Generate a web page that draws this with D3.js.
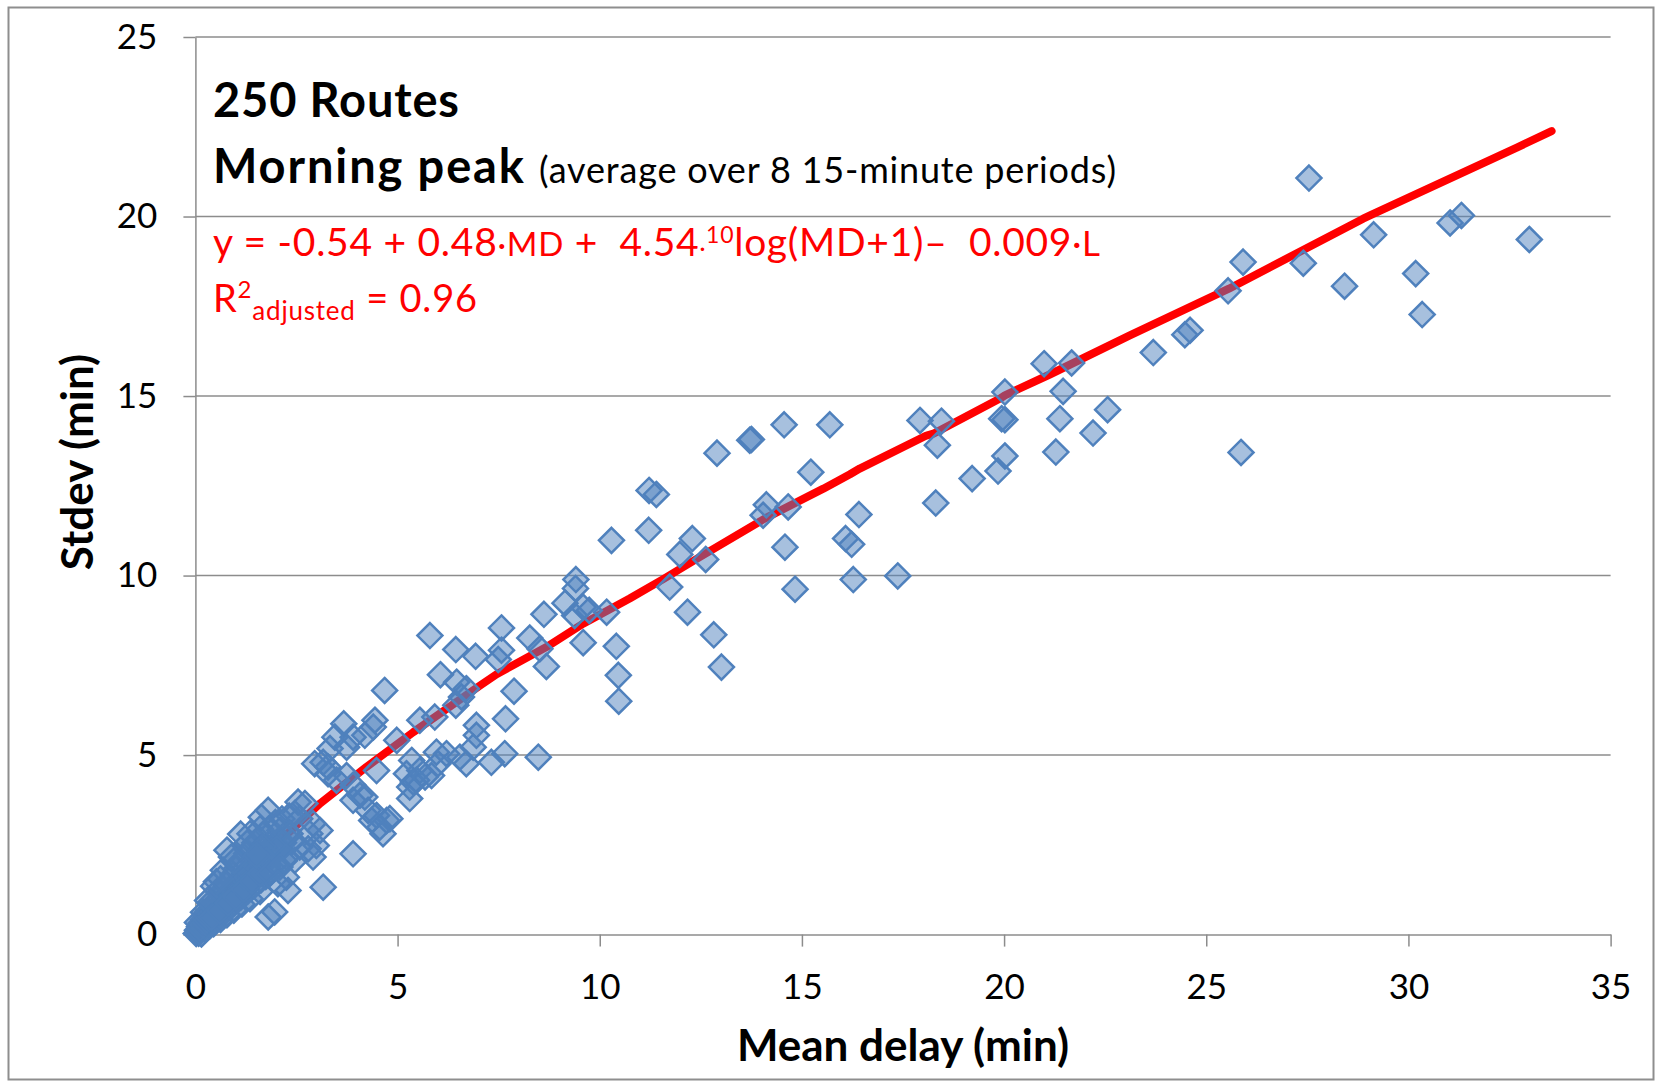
<!DOCTYPE html>
<html>
<head>
<meta charset="utf-8">
<script src="https://cdn.jsdelivr.net/npm/d3@7"></script>
<style>
  body { margin: 0; background: #fff; }
  svg text { font-family: Lato, "Open Sans", sans-serif; white-space: pre; }
</style>
</head>
<body>
<svg id="chart" width="1656" height="1081"></svg>
<script>
// axis ticks
const xTicks = [0, 5, 10, 15, 20, 25, 30, 35];
const yTicks = [0, 5, 10, 15, 20, 25];

// routes: [mean delay, stdev] in minutes
// dense bunch near the origin
const clusterRoutes = [
  [0.02,0.03],[0.05,0.12],[0.08,0.04],[0.10,0.22],[0.12,0.10],[0.14,0.32],[0.17,0.16],[0.20,0.42],
  [0.22,0.24],[0.25,0.14],[0.27,0.52],[0.30,0.32],[0.32,0.64],[0.35,0.24],[0.37,0.44],[0.40,0.74],
  [0.42,0.36],[0.45,0.56],[0.48,0.86],[0.50,0.42],[0.53,0.66],[0.55,0.98],[0.58,0.50],[0.60,0.80],
  [0.63,1.12],[0.65,0.56],[0.68,0.90],[0.70,1.26],[0.72,0.64],[0.75,1.02],[0.78,1.40],[0.80,0.72],
  [0.83,1.14],[0.85,1.52],[0.88,0.80],[0.90,1.26],[0.93,1.66],[0.95,0.88],[0.98,1.36],[1.00,1.82],
  [1.03,0.96],[1.06,1.46],[1.09,1.96],[1.12,1.04],[1.15,1.58],[1.18,2.10],[1.21,1.12],[1.24,1.70],
  [1.27,2.26],[1.30,1.22],[1.33,1.82],[1.37,2.40],[1.40,1.32],[1.43,1.94],[1.47,2.56],[1.50,1.42],
  [1.54,2.08],[1.58,2.66],[1.62,1.52],[1.66,2.20],[1.70,2.82],[1.74,1.62],[1.78,2.34],[1.83,2.96],
  [1.88,1.76],[1.93,2.50],[1.98,3.12],[2.03,1.90],[2.08,2.64],[2.14,3.22],[2.20,2.06],[2.26,2.84],
  [2.32,3.30],[0.05,0.34],[0.20,0.62],[0.36,0.88],[0.55,1.22],[0.45,1.35],[0.69,1.79],[1.00,1.10],
  [1.25,1.46],[1.50,1.78],[1.75,2.02],[2.00,2.30],[0.15,0.02],[0.45,0.30],[0.62,0.42],[0.78,0.55],
  [0.95,0.68],[1.15,0.85],[1.35,1.00],[1.60,1.20],
  [0.12,0.18],[0.18,0.26],[0.24,0.34],[0.28,0.40],[0.34,0.46],[0.38,0.58],[0.44,0.64],[0.50,0.70],
  [0.52,0.58],[0.58,0.72],[0.62,0.86],[0.66,0.76],[0.70,0.94],[0.74,0.86],[0.78,1.08],[0.82,0.96],
  [0.86,1.20],[0.90,1.04],[0.94,1.30],[0.98,1.16],[1.04,1.32],[1.08,1.22],[1.12,1.40],[1.18,1.32],
  [1.22,1.52],[1.28,1.60],[1.34,1.50],[1.38,1.70],[1.45,1.62],[1.52,1.90],[1.58,1.84],[1.64,2.00],
  [1.72,2.14],[1.80,2.20],[1.90,2.32],[1.98,2.44],[2.10,2.40],[2.18,2.56],
  [0.52,1.47],[0.78,2.35],[1.12,2.80],[0.30,0.95],[0.62,1.55],[0.95,2.05],[1.28,2.55],[1.60,2.95],
  [0.40,0.48],[0.60,0.66],[0.80,0.88],[1.00,1.04],[1.20,1.26],[1.40,1.48],[1.60,1.70],[1.80,1.92]
];

// short routes, mean delay up to 10 min
const shortRoutes = [
  [9.41,9.89],[9.40,9.64],[9.14,9.23],[9.59,9.12],[9.38,8.89],[9.74,9.03],[8.62,8.92],[9.59,8.13],
  [7.57,8.54],[8.27,8.26],[8.52,7.96],[8.68,7.47],[7.57,7.92],[7.49,7.66],[7.88,6.78],[7.67,6.01],
  [5.80,8.33],[6.44,7.94],[6.93,7.75],[6.06,7.24],[6.46,7.03],[6.70,6.85],[6.58,6.62],[6.44,6.39],
  [4.68,6.80],[3.67,5.87],[4.44,5.97],[5.55,5.97],[5.92,6.06],[6.95,5.83],[4.40,5.78],[4.19,5.55],
  [3.45,5.50],[3.90,5.50],[3.33,5.18],[3.74,5.22],[2.95,4.76],[3.16,4.80],[3.28,4.67],[3.28,4.48],
  [3.49,4.30],[3.74,4.43],[3.90,4.16],[4.07,3.88],[4.19,3.83],[3.90,3.74],[4.27,3.46],[4.48,3.32],
  [4.73,3.18],[4.56,2.99],[4.36,3.18],[4.81,3.23],[4.64,2.81],[5.35,4.85],[5.22,4.48],[5.55,4.57],
  [5.39,4.25],[5.30,4.11],[5.47,4.30],[5.68,4.39],[5.84,4.43],[5.30,3.79],[5.96,5.08],[6.21,5.04],
  [6.00,4.76],[6.54,4.94],[6.70,4.76],[6.95,5.55],[6.87,5.22],[7.32,4.80],[7.65,5.04],[8.48,4.94],
  [4.48,4.57],[4.98,5.41],[3.90,2.25],[3.16,1.32],[2.54,3.69],[2.71,3.65],[2.46,3.37],[2.58,3.23],
  [1.80,3.46],[1.63,3.27],[2.91,3.09],[3.08,2.90],[2.83,2.81],[2.99,2.48],[2.91,2.16],[2.79,2.39],
  [1.35,2.81],[2.09,2.90],[2.34,2.81],[2.13,2.53],[2.38,2.58],[2.58,2.44],[2.01,2.39],[2.25,2.16],
  [2.46,2.07],[0.89,2.16],[1.67,2.44],[1.76,2.07],[1.51,2.21],[1.84,1.70],[2.09,1.88],[2.25,1.60],
  [2.04,1.42],[2.29,1.23],[1.80,0.49],[1.96,0.63]
];

// mean delay 10 to 17 min
const midRoutes = [
  [12.90,13.41],[13.75,13.79],[13.71,13.77],[14.56,14.20],[15.69,14.20],[15.22,12.88],[14.12,11.97],
  [14.04,11.68],[14.66,11.91],[14.58,10.79],[14.83,9.62],[16.41,11.70],[16.08,11.03],[16.23,10.87],
  [16.27,9.89],[12.62,10.45],[12.82,8.35],[13.01,7.45],[11.22,12.37],[11.40,12.26],[11.21,11.26],
  [10.29,10.98],[12.29,11.03],[11.98,10.59],[11.73,9.68],[12.17,8.98],[10.17,8.98],[10.41,8.03],
  [10.46,7.22],[10.47,6.50]
];

// long delays
const longRoutes = [
  [27.54,21.07],[25.91,18.73],[25.54,17.93],[23.69,16.21],[24.47,16.71],[24.60,16.83],[25.86,13.43],
  [27.40,18.70],[28.42,18.06],[29.14,19.49],[30.18,18.41],[30.34,17.27],[31.03,19.82],[31.31,20.03],
  [32.99,19.36],[20.99,15.90],[21.67,15.92],[21.46,15.13],[20.02,15.11],[20.02,14.34],[19.94,14.37],
  [21.38,14.37],[22.56,14.62],[22.20,13.97],[21.28,13.44],[20.02,13.33],[19.85,12.91],[19.21,12.70],
  [17.92,14.32],[18.45,14.30],[18.35,13.63],[18.31,12.02],[17.37,9.99]
];

// fitted curve as drawn (red line)
const fitLine = [
  [0.10,0.10],[0.60,0.85],[1.39,1.93],[2.01,2.53],[3.08,3.65],[4.23,4.67],[5.39,5.64],[7.04,6.94],
  [7.45,7.25],[8.68,8.01],[9.59,8.66],[10.74,9.36],[11.57,9.90],[12.48,10.52],[14.10,11.60],
  [15.53,12.42],[16.19,12.82],[16.43,12.98],[18.08,13.90],[18.25,13.95],[19.90,14.93],[20.02,15.02],
  [21.13,15.60],[23.11,16.69],[25.56,17.99],[28.88,19.94],[29.05,20.03],[32.68,21.92],[33.54,22.38]
];

const allRoutes = [...clusterRoutes, ...shortRoutes, ...midRoutes, ...longRoutes];

const svg = d3.select('#chart');
const plot = { left: 195.4, right: 1610.6, top: 37, bottom: 934.6 };
const gridColor = '#8c8c8c';

// stretch a text's letter spacing so it spans the width seen in the picture
function fitWidth(sel, target) {
    const node = sel.node();
    const len = node.getComputedTextLength();
    const n = node.textContent.length;
    if (n > 1) sel.attr('letter-spacing', (target - len) / (n - 1));
    return sel;
}

// outer frame
svg.append('rect')
    .attr('x', 8.5).attr('y', 7.5)
    .attr('width', 1645).attr('height', 1072)
    .attr('fill', '#fff')
    .attr('stroke', '#8e8e8e')
    .attr('stroke-width', 2);

const x = d3.scaleLinear().domain([0, 35]).range([plot.left, plot.right]);
const y = d3.scaleLinear().domain([0, 25]).range([plot.bottom, plot.top]);

// horizontal gridlines
svg.append('g')
    .selectAll('line')
    .data(yTicks.filter(d => d > 0))
    .enter()
    .append('line')
    .attr('x1', x(0)).attr('x2', x(35))
    .attr('y1', d => y(d)).attr('y2', d => y(d))
    .attr('stroke', gridColor)
    .attr('stroke-width', 1.5);

// axes
const yAxis = svg.append('g')
    .attr('transform', `translate(${plot.left},0)`)
    .call(d3.axisLeft(y).tickValues(yTicks).tickSize(12).tickSizeOuter(0).tickPadding(26));

const xAxis = svg.append('g')
    .attr('transform', `translate(0,${plot.bottom})`)
    .call(d3.axisBottom(x).tickValues(xTicks).tickSize(12).tickSizeOuter(0).tickPadding(28));

[xAxis, yAxis].forEach(ax => {
    ax.select('.domain').attr('stroke', gridColor).attr('stroke-width', 1.5);
    ax.selectAll('.tick line').attr('stroke', gridColor).attr('stroke-width', 1.5);
    ax.selectAll('.tick text')
        .attr('fill', '#000')
        .attr('font-size', 35)
        .attr('font-family', 'Lato, "Open Sans", sans-serif');
});

// axis titles
svg.append('text')
    .attr('x', (plot.left + plot.right) / 2)
    .attr('y', 1061)
    .attr('text-anchor', 'middle')
    .attr('font-size', 44)
    .attr('font-weight', 'bold')
    .text('Mean delay (min)');

svg.append('text')
    .attr('transform', 'translate(93,462) rotate(-90)')
    .attr('text-anchor', 'middle')
    .attr('font-size', 44)
    .attr('font-weight', 'bold')
    .text('Stdev (min)');

// fitted line
const line = d3.line().x(d => x(d[0])).y(d => y(d[1]));
svg.append('path')
    .datum(fitLine)
    .attr('d', line)
    .attr('fill', 'none')
    .attr('stroke', '#ff0000')
    .attr('stroke-width', 8)
    .attr('stroke-linecap', 'round')
    .attr('stroke-linejoin', 'round');

// diamond markers
const diamond = 'M0,-12.5L12.5,0L0,12.5L-12.5,0Z';
svg.append('g')
    .selectAll('path')
    .data(allRoutes)
    .enter()
    .append('path')
    .attr('d', diamond)
    .attr('transform', d => `translate(${x(d[0])},${y(d[1])})`)
    .attr('fill', '#4f81bd')
    .attr('fill-opacity', 0.5)
    .attr('stroke', '#4f81bd')
    .attr('stroke-width', 2.5);

// titles inside the plot
fitWidth(svg.append('text')
    .attr('x', 213).attr('y', 117)
    .attr('font-size', 47)
    .attr('font-weight', 'bold')
    .text('250 Routes'), 246);

fitWidth(svg.append('text')
    .attr('x', 213).attr('y', 182.5)
    .attr('font-size', 47)
    .attr('font-weight', 'bold')
    .text('Morning peak'), 311);

fitWidth(svg.append('text')
    .attr('x', 539).attr('y', 182.5)
    .attr('font-size', 36)
    .text('(average over 8 15-minute periods)'), 577);

// regression equation
const eq = svg.append('text').attr('x', 213).attr('y', 256).attr('fill', '#ff0000').attr('font-size', 39);
eq.append('tspan').text('y = -0.54 + 0.48');
eq.append('tspan').attr('font-size', 33).text('·MD');
eq.append('tspan').text(' +  4.54');
eq.append('tspan').attr('font-size', 23).text('·');
eq.append('tspan').attr('font-size', 23).attr('dy', -13).text('10');
eq.append('tspan').attr('dy', 13).text('log(MD+1)–  0.009');
eq.append('tspan').attr('font-size', 35).text('·L');
fitWidth(eq, 887);

const r2 = svg.append('text').attr('x', 213).attr('y', 311.5).attr('fill', '#ff0000').attr('font-size', 38);
r2.append('tspan').text('R');
r2.append('tspan').attr('font-size', 24).attr('dy', -14).text('2');
r2.append('tspan').attr('font-size', 26).attr('dy', 22).text('adjusted');
r2.append('tspan').attr('dy', -8).text(' = 0.96');
fitWidth(r2, 264);
</script>
</body>
</html>
